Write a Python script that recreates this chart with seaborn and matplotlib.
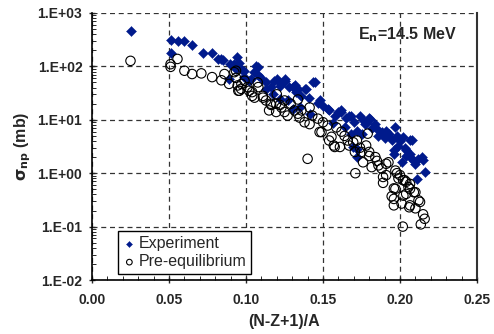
import matplotlib
matplotlib.use("Agg")
import matplotlib.pyplot as plt
import matplotlib.ticker as mticker
import seaborn as sns
import pandas as pd
import numpy as np

exp_x = [0.025, 0.051, 0.051, 0.0557, 0.060, 0.065, 0.072, 0.078,
         0.082, 0.084, 0.085, 0.0896, 0.0924, 0.094, 0.0957, 0.0935, 0.097, 0.099, 0.099, 0.089,
         0.1065, 0.1076, 0.105, 0.103, 0.102, 0.108, 0.110, 0.113, 0.113, 0.1163, 0.1174, 0.118,
         0.120, 0.122, 0.122, 0.123, 0.125, 0.125, 0.127, 0.128, 0.1305, 0.1305, 0.1315, 0.1326,
         0.1337, 0.1348, 0.136, 0.138, 0.139, 0.1413, 0.141, 0.1435, 0.1446, 0.1467, 0.148, 0.150,
         0.153, 0.154, 0.1565, 0.158, 0.160, 0.162, 0.162, 0.164, 0.165, 0.167, 0.1685, 0.1685,
         0.1696, 0.170, 0.172, 0.172, 0.172, 0.174, 0.175, 0.176, 0.177, 0.178, 0.180, 0.1805,
         0.182, 0.184, 0.185, 0.186, 0.188, 0.190, 0.191, 0.191, 0.193, 0.1946, 0.196, 0.196,
         0.197, 0.198, 0.199, 0.200, 0.201, 0.202, 0.203, 0.204, 0.204, 0.2065, 0.2065, 0.2065,
         0.208, 0.209, 0.210, 0.211, 0.212, 0.214, 0.215, 0.216]
exp_y = [460, 316, 178, 300, 300, 250, 178, 178,
         140, 136, 130, 110, 110, 150, 117, 89, 89, 83, 62, 58,
         102, 96, 78, 58, 54, 70, 60, 50, 38, 41, 30, 54,
         58, 43, 25, 47, 58, 54, 23, 41, 41, 16, 44, 33,
         38, 17, 28, 38, 38, 13, 26, 51, 50, 21, 23, 18,
         16, 15, 8.9, 12, 14, 14, 15, 7.2, 11, 12, 12, 5.5,
         3.1, 9, 2.9, 2.0, 6.3, 12, 5.5, 10, 8.3, 8.9, 11, 10.5,
         7, 8.3, 6.7, 5.0, 6, 4.5, 5.9, 6.3, 5.5, 4.1, 2.7, 2.3,
         7.2, 5, 3.3, 4, 1.6, 4.8, 3, 2.7, 2.1, 4.1, 2.0, 2.3,
         4.1, 1.7, 1.5, 0.79, 1.86, 2.0, 1.74, 1.05]

pe_x = [0.025, 0.051, 0.051, 0.0555, 0.060, 0.065, 0.071, 0.078, 0.084, 0.086, 0.089,
        0.0935, 0.0935, 0.0924, 0.0946, 0.095, 0.0957, 0.097, 0.0968, 0.099, 0.101, 0.102,
        0.104, 0.104, 0.1055, 0.1076, 0.108, 0.111, 0.111, 0.113, 0.115, 0.116, 0.1163,
        0.1196, 0.1196, 0.120, 0.122, 0.123, 0.125, 0.125, 0.127, 0.129, 0.1315, 0.1337,
        0.1337, 0.136, 0.1348, 0.138, 0.140, 0.1413, 0.1413, 0.143, 0.1467, 0.1478, 0.149,
        0.150, 0.153, 0.154, 0.1555, 0.157, 0.1576, 0.1587, 0.161, 0.162, 0.164, 0.166,
        0.167, 0.1696, 0.1707, 0.171, 0.172, 0.174, 0.175, 0.176, 0.178, 0.179, 0.180,
        0.180, 0.1816, 0.184, 0.185, 0.186, 0.188, 0.189, 0.189, 0.191, 0.191, 0.1925,
        0.1946, 0.196, 0.196, 0.196, 0.197, 0.197, 0.198, 0.199, 0.200, 0.201, 0.2018,
        0.202, 0.2022, 0.203, 0.204, 0.204, 0.2055, 0.2065, 0.2065, 0.2065, 0.206, 0.209,
        0.210, 0.210, 0.212, 0.213, 0.2135, 0.215, 0.216]
pe_y = [127, 110, 98, 138, 83, 72, 74, 63, 55, 72, 47,
        83, 61, 78, 44, 35, 35, 47, 38, 54, 41, 35,
        33, 28, 26, 50, 41, 28, 26, 23, 15, 20, 19,
        20, 14, 30, 19, 17, 23, 14, 12, 20, 15, 13,
        24, 15, 11, 9, 1.86, 17, 8.3, 12, 10.5, 5.9, 5.9,
        9, 7.8, 4.1, 4.8, 3.3, 3.1, 7.2, 3.1, 6, 5.0, 4.1,
        3.3, 3.8, 2.5, 1.0, 4.1, 3, 2.5, 1.6, 3.3, 5.5, 2.5,
        2.1, 1.3, 2.0, 1.7, 1.4, 1.23, 0.85, 0.66, 1.5, 0.92, 1.6,
        0.37, 0.52, 0.33, 0.25, 1.12, 0.51, 1.0, 0.8, 0.92, 0.27, 0.10,
        0.74, 0.38, 0.74, 0.69, 0.41, 0.55, 0.63, 0.51, 0.25, 0.23, 0.44,
        0.44, 0.22, 0.31, 0.29, 0.11, 0.17, 0.14]

series_names = ["Experiment", "Pre-equilibrium"]
x_ticks = [0.00, 0.05, 0.10, 0.15, 0.20, 0.25]
y_ticks = [1e-2, 1e-1, 1e0, 1e1, 1e2, 1e3]

sns.set_style("ticks")
plt.rcParams['font.family'] = ['Liberation Sans', 'DejaVu Sans']

df_exp = pd.DataFrame({"x": exp_x, "y": exp_y})
df_pe = pd.DataFrame({"x": pe_x, "y": pe_y})

fig = plt.figure(figsize=(4.94, 3.34), dpi=100)
ax = fig.add_axes([92/494, 1-280/334, 385/494, 267/334])

sns.scatterplot(data=df_exp, x="x", y="y", ax=ax, marker="D", s=26,
                color="#001A8C", edgecolor="#001A8C", linewidth=0.3,
                label=series_names[0], zorder=3)
sns.scatterplot(data=df_pe, x="x", y="y", ax=ax, marker="o", s=46,
                facecolor="none", edgecolor="black", linewidth=0.8,
                label=series_names[1], zorder=4)

ax.set_yscale("log")
ax.set_xlim(0, 0.25)
ax.set_ylim(1e-2, 1e3)
ax.set_xticks(x_ticks)
ax.set_yticks(y_ticks)
ax.xaxis.set_major_formatter(mticker.FuncFormatter(lambda v, p: f"{v:.2f}"))
ax.yaxis.set_major_formatter(mticker.FuncFormatter(
    lambda v, p: "1.E" + ("+" if np.log10(v) >= 0 else "-") + f"{abs(int(round(np.log10(v)))):02d}"))
ax.xaxis.set_minor_locator(mticker.MultipleLocator(0.01))
ax.yaxis.set_minor_locator(mticker.LogLocator(base=10, subs=np.arange(2, 10)))
ax.yaxis.set_minor_formatter(mticker.NullFormatter())

ax.grid(True, which="major", linestyle=(0, (4, 3)), color="#333333", linewidth=0.9)
ax.set_axisbelow(True)

for lab in ax.get_xticklabels() + ax.get_yticklabels():
    lab.set_fontweight("bold")
    lab.set_fontsize(10)
ax.tick_params(axis="x", which="major", direction="inout", length=5, width=1, pad=7)
ax.tick_params(axis="y", which="major", direction="inout", length=5, width=1, pad=4.5)
ax.tick_params(axis="both", which="minor", direction="in", length=3, width=0.7)

for side in ["left", "bottom"]:
    ax.spines[side].set_color("black")
    ax.spines[side].set_linewidth(1.2)
ax.spines["top"].set_visible(False)
ax.spines["right"].set_color("#333333")
ax.spines["right"].set_linewidth(1.5)

ax.set_xlabel("(N-Z+1)/A", fontsize=11.5, fontweight="bold", labelpad=5)
ax.set_ylabel(r"$\mathbf{\sigma_{np}}$ (mb)", fontsize=11.5, fontweight="bold", labelpad=3)

ax.text(0.948, 0.918, r"E$_\mathbf{n}$=14.5 MeV", transform=ax.transAxes, ha="right",
        va="center", fontsize=11.5, fontweight="bold")

leg = ax.legend(loc="lower left", bbox_to_anchor=(0.068, 0.022), fontsize=11.5,
                frameon=True, fancybox=False, edgecolor="black", framealpha=1,
                borderpad=0.3, handletextpad=0.2, labelspacing=0.2, handlelength=0.8,
                borderaxespad=0, markerscale=0.6)
leg.get_frame().set_linewidth(1.0)

fig.savefig("out.png", dpi=100)
